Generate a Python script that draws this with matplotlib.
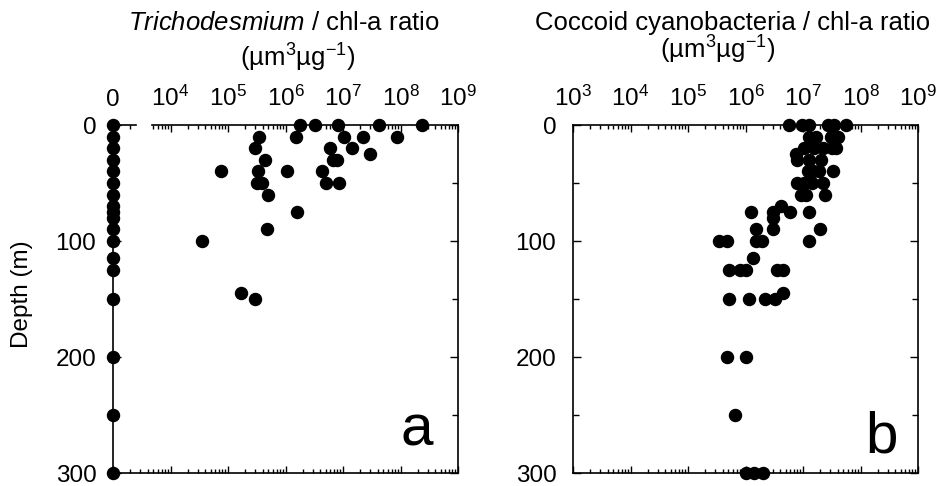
import matplotlib
matplotlib.use("Agg")
import matplotlib.pyplot as plt
from matplotlib.patches import Rectangle
from matplotlib.lines import Line2D
from matplotlib.ticker import LogLocator, FixedLocator, NullFormatter

plt.rcParams["font.family"] = ["Liberation Sans", "DejaVu Sans"]
plt.rcParams["mathtext.fontset"] = "custom"
plt.rcParams["mathtext.rm"] = "Liberation Sans"
plt.rcParams["mathtext.it"] = "Liberation Sans:italic"

# Trichodesmium / chl-a ratio: zero values (drawn on the "0" line)
tricho_zero_depth = [0, 10, 20, 30, 40, 50, 60, 70, 75, 80, 90, 100, 115, 125, 150, 200, 250, 300]

# Trichodesmium / chl-a ratio: non-zero values (log10 of ratio)
tricho_log = [6.26, 6.51, 6.91, 7.63, 8.38,
              5.54, 6.19, 7.02, 7.34, 7.94,
              5.47, 6.77, 7.16, 7.47,
              5.65, 6.83, 6.89,
              4.88, 5.52, 6.02, 6.64,
              5.51, 5.59, 6.71, 6.93,
              5.70, 6.20, 5.67, 4.55, 5.23, 5.47]
tricho_depth = [0, 0, 0, 0, 0,
                10, 10, 10, 10, 10,
                20, 20, 20, 25,
                30, 30, 30,
                40, 40, 40, 40,
                50, 50, 50, 50,
                60, 75, 90, 100, 145, 150]

# Coccoid cyanobacteria / chl-a ratio (log10 of ratio)
cocc_log = [6.76, 6.99, 7.10, 7.43, 7.54, 7.74,
            7.10, 7.22, 7.48, 7.60,
            7.02, 7.19, 7.34, 7.51, 7.57,
            6.87,
            6.90, 7.10, 7.31,
            7.08, 7.17, 7.28, 7.52,
            6.90, 7.02, 7.16, 7.34,
            6.96, 7.05, 7.38,
            6.61,
            6.09, 6.47, 6.77, 7.10,
            6.48,
            6.18, 6.47, 7.30,
            5.54, 5.68, 6.18, 6.29, 7.10,
            6.13,
            5.71, 5.91, 6.00, 6.55, 6.66,
            6.66,
            5.71, 6.06, 6.34, 6.51,
            5.67, 6.01,
            5.81,
            6.01, 6.15, 6.31]
cocc_depth = [0, 0, 0, 0, 0, 0,
              10, 10, 10, 10,
              20, 20, 20, 20, 20,
              25,
              30, 30, 30,
              40, 40, 40, 40,
              50, 50, 50, 50,
              60, 60, 60,
              70,
              75, 75, 75, 75,
              80,
              90, 90, 90,
              100, 100, 100, 100, 100,
              115,
              125, 125, 125, 125, 125,
              145,
              150, 150, 150, 150,
              200, 200,
              250,
              300, 300, 300]

W, H = 940, 486
fig = plt.figure(figsize=(W / 100, H / 100), dpi=100)


def px_rect(x0, y0, x1, y1):
    return [x0 / W, 1 - y1 / H, (x1 - x0) / W, (y1 - y0) / H]


def style_axes(ax, top_labels):
    ax.set_xscale("log")
    ax.set_xlim(1e3, 1e9)
    ax.set_ylim(300, 0)
    for s in ax.spines.values():
        s.set_linewidth(1.2)
    ax.xaxis.set_major_locator(FixedLocator([10.0 ** k for k in range(3, 10)]))
    ax.xaxis.set_minor_locator(LogLocator(base=10, subs=range(2, 10), numticks=20))
    ax.xaxis.set_minor_formatter(NullFormatter())
    ax.set_xticklabels(top_labels)
    ax.set_yticks([0, 100, 200, 300])
    ax.set_yticks([50, 150, 250], minor=True)
    ax.tick_params(axis="x", which="both", direction="in", top=True, bottom=True,
                   labeltop=True, labelbottom=False, labelsize=17.5, pad=10, width=1)
    ax.tick_params(axis="x", which="major", length=5)
    ax.tick_params(axis="x", which="minor", length=3)
    ax.tick_params(axis="y", which="both", direction="in", left=True, right=True,
                   labelsize=17.5, pad=12, width=1)
    ax.tick_params(axis="y", which="major", length=6)
    ax.tick_params(axis="y", which="minor", length=4)


decade_labels = ["$10^{%d}$" % k for k in range(3, 10)]

# Panel a
ax1 = fig.add_axes(px_rect(113, 125, 458, 473))
style_axes(ax1, ["0"] + decade_labels[1:])
ax1.scatter([1e3] * len(tricho_zero_depth), tricho_zero_depth, s=75, color="black",
            zorder=5, clip_on=False)
ax1.scatter([10 ** v for v in tricho_log], tricho_depth, s=75, color="black",
            zorder=5, clip_on=False)
# broken top axis between the "0" and the log part
ax1.spines["top"].set_visible(False)
gap0, gap1 = (136 - 113) / 345, (152 - 113) / 345
ax1.add_line(Line2D([0, gap0], [1, 1], transform=ax1.transAxes, color="black",
                    lw=1.2, clip_on=False, zorder=4))
ax1.add_line(Line2D([gap1, 1], [1, 1], transform=ax1.transAxes, color="black",
                    lw=1.2, clip_on=False, zorder=4))
ax1.add_patch(Rectangle((gap0, 0.97), gap1 - gap0, 0.03, transform=ax1.transAxes,
                        facecolor="white", edgecolor="none", zorder=3.5, clip_on=False))

# Panel b
ax2 = fig.add_axes(px_rect(573, 125, 918, 473))
style_axes(ax2, decade_labels)
ax2.scatter([10 ** v for v in cocc_log], cocc_depth, s=75, color="black",
            zorder=5, clip_on=False)


def fig_text(x, y, s, size=18.5, **kw):
    fig.text(x / W, 1 - y / H, s, ha="center", va="center", fontsize=size, **kw)


fig_text(284, 23, "$\\it{Trichodesmium}$ / chl-a ratio")
fig_text(298, 58, "(µm$^{3}$µg$^{\\mathrm{-1}}$)")
fig_text(733, 23, "Coccoid cyanobacteria / chl-a ratio")
fig_text(718, 50, "(µm$^{3}$µg$^{\\mathrm{-1}}$)")
fig_text(22, 294, "Depth (m)", size=17.5, rotation=90)
fig.text(417 / W, 1 - 445 / H, "a", fontsize=42, ha="center", va="baseline")
fig.text(882 / W, 1 - 452 / H, "b", fontsize=42, ha="center", va="baseline")

fig.savefig("out.png", dpi=100)
